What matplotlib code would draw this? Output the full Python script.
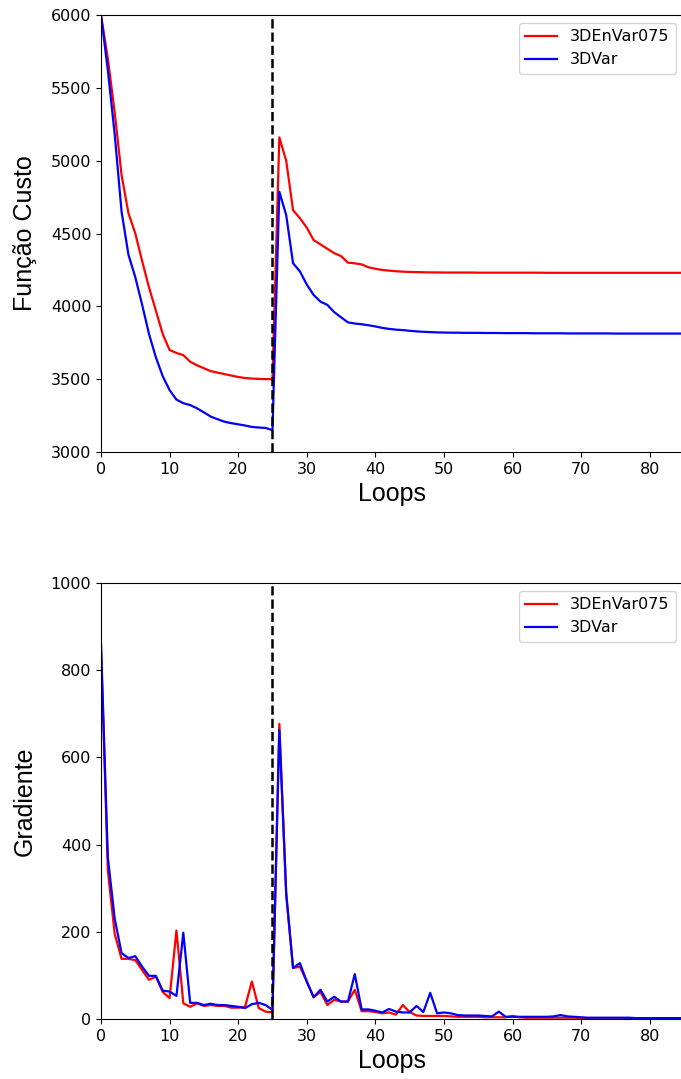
import matplotlib
matplotlib.use("Agg")
import matplotlib.pyplot as plt
import numpy as np

loops = list(range(86))

cost_envar = [6000, 5700, 5330, 4900, 4640, 4500, 4310, 4130, 3970, 3810,
              3700, 3680, 3665, 3620, 3595, 3575, 3555, 3545, 3535, 3525,
              3515, 3508, 3504, 3502, 3500, 3500, 5160, 5000, 4660, 4605,
              4540, 4455, 4425, 4395, 4365, 4345, 4300, 4295, 4288, 4268,
              4258, 4250, 4245, 4241, 4238, 4236, 4235, 4234, 4233, 4233,
              4232, 4232, 4232, 4232, 4232, 4231, 4231, 4231, 4231, 4231,
              4231, 4231, 4231, 4231, 4231, 4230, 4230, 4230, 4230, 4230,
              4230, 4230, 4230, 4230, 4230, 4230, 4230, 4230, 4230, 4230,
              4230, 4230, 4230, 4230, 4230, 4230]

cost_3dvar = [6000, 5620, 5180, 4650, 4355, 4200, 4010, 3810, 3650, 3520,
              3425, 3360, 3335, 3322, 3300, 3272, 3243, 3225, 3208, 3198,
              3190, 3182, 3172, 3168, 3165, 3150, 4787, 4627, 4296, 4240,
              4150, 4078, 4032, 4010, 3960, 3925, 3890, 3882, 3877, 3870,
              3862, 3852, 3845, 3840, 3837, 3832, 3828, 3825, 3823, 3821,
              3820, 3819, 3819, 3818, 3818, 3818, 3817, 3817, 3817, 3816,
              3816, 3816, 3816, 3815, 3815, 3815, 3815, 3815, 3814, 3814,
              3814, 3814, 3814, 3814, 3814, 3813, 3813, 3813, 3813, 3813,
              3813, 3813, 3813, 3813, 3813, 3813]

grad_envar = [850, 340, 195, 138, 138, 135, 112, 90, 97, 62,
              48, 203, 36, 28, 36, 30, 32, 30, 30, 26,
              26, 28, 86, 25, 17, 15, 677, 285, 117, 120,
              86, 50, 62, 32, 44, 40, 40, 67, 18, 18,
              16, 13, 15, 10, 32, 16, 8, 7, 7, 7,
              7, 6, 5, 5, 5, 5, 4, 4, 4, 4,
              7, 4, 3, 3, 3, 3, 3, 3, 3, 3,
              2, 2, 2, 2, 2, 2, 2, 2, 1, 1,
              1, 1, 1, 1, 1, 1]

grad_3dvar = [860, 370, 230, 151, 140, 144, 120, 99, 99, 65,
              63, 53, 198, 37, 37, 32, 35, 32, 32, 30,
              28, 25, 34, 37, 32, 21, 663, 290, 117, 128,
              86, 50, 67, 40, 51, 40, 40, 103, 22, 22,
              19, 15, 23, 17, 15, 15, 30, 16, 60, 13,
              15, 13, 9, 8, 8, 8, 7, 6, 17, 5,
              5, 5, 5, 5, 5, 5, 6, 9, 6, 5,
              4, 3, 3, 3, 3, 3, 3, 3, 2, 2,
              2, 2, 2, 2, 2, 2]

label_envar = "3DEnVar075"
label_3dvar = "3DVar"
restart_loop = 25

fig = plt.figure(figsize=(6.81, 10.79), dpi=100)
W, H = 681, 1079
ax1 = fig.add_axes([101 / W, 1 - 452 / H, 583 / W, 437 / H])
ax2 = fig.add_axes([101 / W, 1 - 1019 / H, 583 / W, 436 / H])

label_font = dict(family=["Liberation Sans", "DejaVu Sans"], size=18)

for ax, ya, yb, ylab, ylim, yt in [
    (ax1, cost_envar, cost_3dvar, "Função Custo", (3000, 6000), np.arange(3000, 6001, 500)),
    (ax2, grad_envar, grad_3dvar, "Gradiente", (0, 1000), np.arange(0, 1001, 200)),
]:
    ax.plot(loops, ya, color="red", lw=1.6, label=label_envar)
    ax.plot(loops, yb, color="blue", lw=1.6, label=label_3dvar)
    ax.axvline(restart_loop, color="black", ls="--", lw=1.8)
    ax.set_xlim(0, 85)
    ax.set_ylim(*ylim)
    ax.set_yticks(yt)
    ax.set_xticks(np.arange(0, 81, 10))
    ax.tick_params(labelsize=11.5)
    ax.spines["right"].set_visible(False)
    ax.set_xlabel("Loops", fontdict=label_font)
    ax.set_ylabel(ylab, fontdict=label_font)
    ax.yaxis.set_label_coords(-0.11, 0.5)
    ax.legend(loc="upper right", fontsize=11.5)

fig.savefig("out.png", dpi=100)
